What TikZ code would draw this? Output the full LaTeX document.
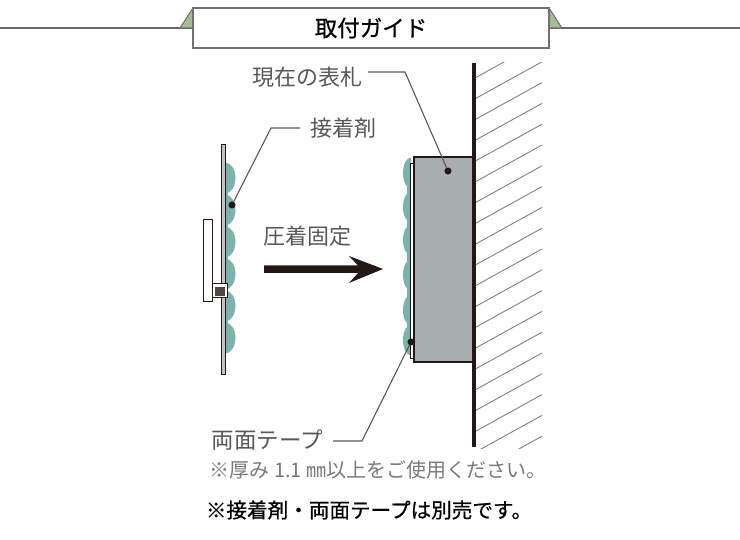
\documentclass[tikz,border=0pt]{standalone}
\usepackage{fontspec}
\setmainfont{Noto Sans CJK JP}
\newfontfamily\medfont[RawFeature={embolden=0.7}]{Noto Sans CJK JP}
\definecolor{inkdark}{RGB}{35,24,21}
\definecolor{inkgray}{RGB}{89,87,87}
\definecolor{gluegreen}{RGB}{125,178,172}
\definecolor{signgray}{RGB}{168,173,173}
\definecolor{tabgreen}{RGB}{165,188,150}
\usetikzlibrary{shapes.geometric}
\tikzset{
	lbl/.style={inner sep=0pt,text=inkgray,font=\fontsize{22}{26}\selectfont},
	leader/.style={draw=inkgray,line width=1.1pt},
	pin/.style={circle,fill=inkdark,inner sep=2.5pt},
	glue/.style={ellipse,fill=gluegreen,inner sep=0pt,minimum width=21pt,minimum height=31pt},
	hatch/.style={draw=inkgray!75,line width=0.9pt}
}
\begin{document}
\begin{tikzpicture}[x=1pt,y=-1pt]
	\useasboundingbox (0,0) rectangle (740,540);
	% heading
	\draw[draw=inkgray!90,line width=1.8pt] (0,28) -- (740,28);
	\draw[fill=tabgreen,draw=inkgray!85,line width=1pt] (180,28) -- (193,8) -- (549,8) -- (562,28) -- cycle;
	\node (title) at (371,28) [draw=inkgray!85,fill=white,line width=1.2pt,minimum width=356pt,minimum height=40pt,inner sep=0pt,font=\fontsize{22.5}{26}\selectfont\medfont] {取付ガイド};

	% left plate
	\begin{scope}
		\clip (225,150) rectangle (240,360);
		\foreach \y in {178,210,242,274,306,338}
			\node at (225,\y) [glue] {};
	\end{scope}
	\fill[gluegreen] (225,172) rectangle (228,344);
	\node (plate) at (223,259) [draw=inkdark,fill=inkgray!35,line width=0.8pt,minimum width=4pt,minimum height=230pt,inner sep=0pt] {};
	\node (frame) at (207.5,261) [draw=inkdark,fill=white,line width=1pt,minimum width=9pt,minimum height=82pt,inner sep=0pt] {};
	\node (clip) at (219.5,291) [draw=inkdark,fill=white,line width=1pt,minimum width=15pt,minimum height=14pt,inner sep=0pt] {};
	\node (clipin) at (220,291.5) [fill=inkdark!80,minimum width=10pt,minimum height=9pt,inner sep=0pt] {};

	% sign on the wall
	\begin{scope}
		\clip (395,150) rectangle (411,360);
		\foreach \y in {173,207,240,275,310,340}
			\node at (411,\y) [glue,minimum width=16pt] {};
	\end{scope}
	\fill[gluegreen] (407,170) rectangle (411,345);
	\node (thin) at (412,260.5) [draw=inkdark,fill=white,line width=0.9pt,minimum width=4pt,minimum height=195pt,inner sep=0pt] {};
	\node (sign) at (443.5,259.5) [draw=inkdark,fill=signgray,line width=1.8pt,minimum width=59pt,minimum height=205pt,inner sep=0pt] {};
	\begin{scope}
		\clip (475,63) rectangle (542,449);
		\foreach \k in {0,...,19}
			\draw[hatch] (475,78+20.8*\k) -- (542,41+20.8*\k);
	\end{scope}
	\draw[draw=inkdark,line width=4pt] (474,63) -- (474,447);

	% arrow
	\node (push) at (307,236) [lbl] {圧着固定};
	\fill[inkdark] (264,265.5) -- (358,265.5) -- (349,256) -- (383,269) -- (349,283) -- (358,273) -- (264,273) -- cycle;

	% labels
	\node (gluelbl) at (343.5,128) [lbl] {接着剤};
	\node (gluepin) at (232,205) [pin] {};
	\coordinate (gluea) at (300,128);
	\coordinate (glueb) at (271,128);
	\draw[leader] (gluea) -- (glueb) -- (gluepin);

	\node (signlbl) at (307.5,77) [lbl] {現在の表札};
	\node (signpin) at (448,171) [pin] {};
	\coordinate (signa) at (368,72);
	\coordinate (signb) at (405,72);
	\draw[leader] (signa) -- (signb) -- (signpin);

	\node (tapelbl) at (267.5,440) [lbl,font=\fontsize{22.5}{26}\selectfont] {両面テープ};
	\node (tapepin) at (411,342) [pin] {};
	\coordinate (tapea) at (333,441);
	\coordinate (tapeb) at (362,441);
	\draw[leader] (tapea) -- (tapeb) -- (tapepin);

	% notes
	\node (note) at (378,470) [inner sep=0pt,text=inkgray!80,font=\fontsize{20}{24}\selectfont] {※厚み 1.1 ㎜以上をご使用ください。};
	\node (sold) at (369,510) [inner sep=0pt,text=black,font=\fontsize{20.6}{24}\selectfont\medfont] {※接着剤・両面テープは別売です。};
\end{tikzpicture}
\end{document}
